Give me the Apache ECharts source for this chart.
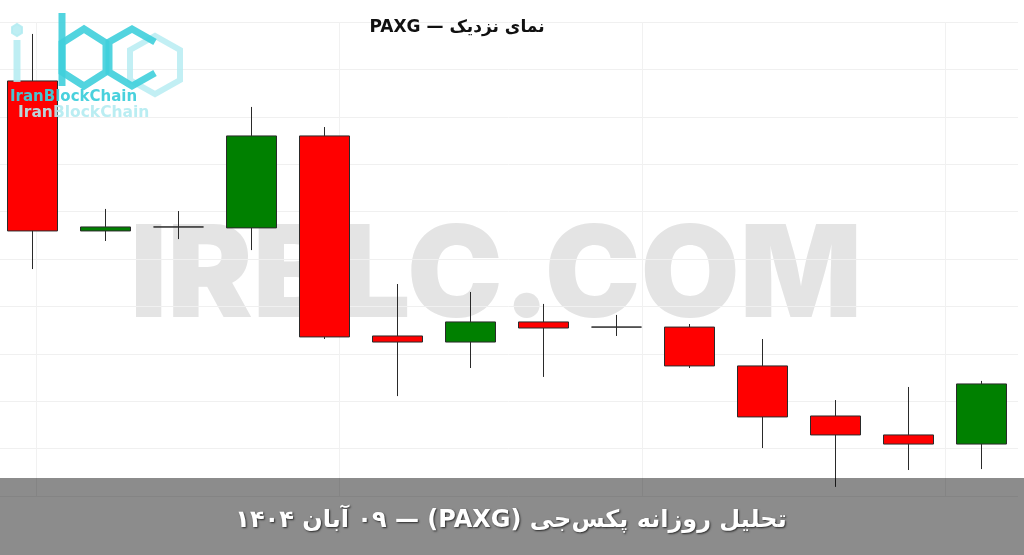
<!DOCTYPE html>
<html>
<head>
<meta charset="utf-8">
<script src="https://cdn.jsdelivr.net/npm/echarts@6/dist/echarts.min.js"></script>
<style>
html,body{margin:0;padding:0;background:#fff;}
#chart{width:1024px;height:555px;}
</style>
</head>
<body>
<div id="chart"></div>
<script>
// ---- data ----
const categories = ['10-17','10-18','10-19','10-20','10-21','10-22','10-23','10-24','10-25','10-26','10-27','10-28','10-29','10-30'];
const openValues  = [4118.9, 4039.8, 4041.9, 4041.4, 4089.9, 3984.4, 3981.2, 3991.8, 3989.1, 3989.1, 3968.6, 3942.2, 3932.2, 3927.4];
const closeValues = [4039.8, 4041.9, 4041.9, 4089.9, 3983.9, 3981.2, 3991.8, 3988.6, 3989.1, 3968.6, 3941.7, 3932.2, 3927.4, 3959.1];
const lowValues   = [4019.7, 4034.5, 4035.5, 4029.7, 3982.8, 3952.7, 3967.5, 3962.8, 3984.4, 3967.5, 3925.3, 3904.8, 3913.7, 3914.2];
const highValues  = [4143.7, 4051.4, 4050.3, 4105.2, 4094.6, 4011.8, 4007.6, 4001.3, 3995.5, 3990.7, 3982.8, 3950.6, 3957.5, 3960.7];
const titleText = 'نمای نزدیک — PAXG';
const footerText = 'تحلیل روزانه پکس‌جی (PAXG) — ۰۹ آبان ۱۴۰۴';
const watermarkText = 'IRBLC.COM';
const logoText = 'IranBlockChain';

const candleData = categories.map((c, i) => [openValues[i], closeValues[i], lowValues[i], highValues[i]]);
const RLE = '\u202B', PDF = '\u202C';

const chart = echarts.init(document.getElementById('chart'), null, {renderer: 'canvas'});

const logoColor = '#3fcfdb';
const logoLight = '#b3ebf1';

const option = {
  backgroundColor: '#ffffff',
  animation: false,
  grid: [
    {left: -4, right: 6, top: 22, bottom: 59, outerBoundsMode: 'none', containLabel: false},
    {left: 36, right: 0, top: 22, bottom: 59, outerBoundsMode: 'none'}
  ],
  xAxis: [
    {type: 'category', data: categories, gridIndex: 0, show: false, boundaryGap: true},
    {type: 'value', gridIndex: 1, min: 0, max: 988, interval: 303,
     axisLine: {show: false}, axisTick: {show: false}, axisLabel: {show: false},
     splitLine: {show: true, lineStyle: {color: '#f1f1f1', width: 1}}}
  ],
  yAxis: [
    {type: 'value', gridIndex: 0, min: 3900, max: 4150, interval: 25,
     axisLine: {show: false}, axisTick: {show: false}, axisLabel: {show: false},
     splitLine: {show: true, lineStyle: {color: '#f0f0f0', width: 1}}},
    {type: 'value', gridIndex: 1, min: 0, max: 1, show: false, splitLine: {show: false}}
  ],
  graphic: [
    {type: 'text', z: -10, silent: true,
     style: {text: watermarkText, x: 496, y: 279, textAlign: 'center', textVerticalAlign: 'middle',
             font: '900 128px Inter, Lato, "Open Sans", sans-serif', fill: '#e4e4e4'}},
    {type: 'text', z: 100, silent: true,
     style: {text: RLE + titleText + PDF, x: 457, y: 28, textAlign: 'center', textVerticalAlign: 'middle',
             font: 'bold 17px "DejaVu Sans", "Noto Sans", sans-serif', fill: '#111'}},
    // logo
    {type: 'polygon', z: 90, silent: true, shape: {points: [[130,50],[155,36],[180,50],[180,80],[155,94],[130,80]]},
     style: {fill: 'none', stroke: logoLight, lineWidth: 6, opacity: 0.8}},
    {type: 'line', z: 90, silent: true, shape: {x1: 17, y1: 40, x2: 17, y2: 82}, style: {stroke: logoLight, lineWidth: 7, opacity: 0.85}},
    {type: 'polygon', z: 90, silent: true, shape: {points: [[12,27],[17,24],[22,27],[22,33],[17,36],[12,33]]},
     style: {fill: logoLight, stroke: logoLight, lineWidth: 2, opacity: 0.85}},
    {type: 'line', z: 91, silent: true, shape: {x1: 62, y1: 13, x2: 62, y2: 86}, style: {stroke: logoColor, lineWidth: 7, opacity: 0.9}},
    {type: 'polygon', z: 91, silent: true, shape: {points: [[62,43],[84,29],[106,43],[106,72],[84,86],[62,72]]},
     style: {fill: 'none', stroke: logoColor, lineWidth: 7, opacity: 0.9}},
    {type: 'polyline', z: 91, silent: true, shape: {points: [[155,42],[132,29],[109,42],[109,72],[132,86],[155,73]]},
     style: {fill: 'none', stroke: logoColor, lineWidth: 7, opacity: 0.9}},
    {type: 'text', z: 92, silent: true, style: {text: logoText, x: 10, y: 97, textAlign: 'left', textVerticalAlign: 'middle',
      font: 'bold 15px "DejaVu Sans", sans-serif', fill: logoColor, opacity: 0.95}},
    {type: 'text', z: 92, silent: true, style: {text: logoText, x: 18, y: 113, textAlign: 'left', textVerticalAlign: 'middle',
      font: 'bold 15.5px "DejaVu Sans", sans-serif', fill: logoLight, opacity: 0.9}},
    // footer band
    {type: 'rect', z: 200, silent: true, shape: {x: 0, y: 478, width: 1024, height: 77},
     style: {fill: 'rgba(0,0,0,0.45)'}},
    {type: 'text', z: 201, silent: true,
     style: {text: RLE + footerText + PDF, x: 511, y: 521, textAlign: 'center', textVerticalAlign: 'middle',
             font: 'bold 24px "DejaVu Sans", "Noto Sans", sans-serif', fill: '#ffffff',
             textShadowColor: 'rgba(0,0,0,0.7)', textShadowBlur: 2, textShadowOffsetX: 1, textShadowOffsetY: 1}}
  ],
  series: [{
    type: 'candlestick',
    xAxisIndex: 0, yAxisIndex: 0,
    data: candleData,
    barWidth: 50,
    z: 10,
    itemStyle: {
      color: '#008000',
      color0: '#ff0000',
      borderColor: '#2a2a2a',
      borderColor0: '#2a2a2a',
      borderColorDoji: '#2a2a2a',
      borderWidth: 1
    }
  }]
};
chart.setOption(option);
</script>
</body>
</html>
